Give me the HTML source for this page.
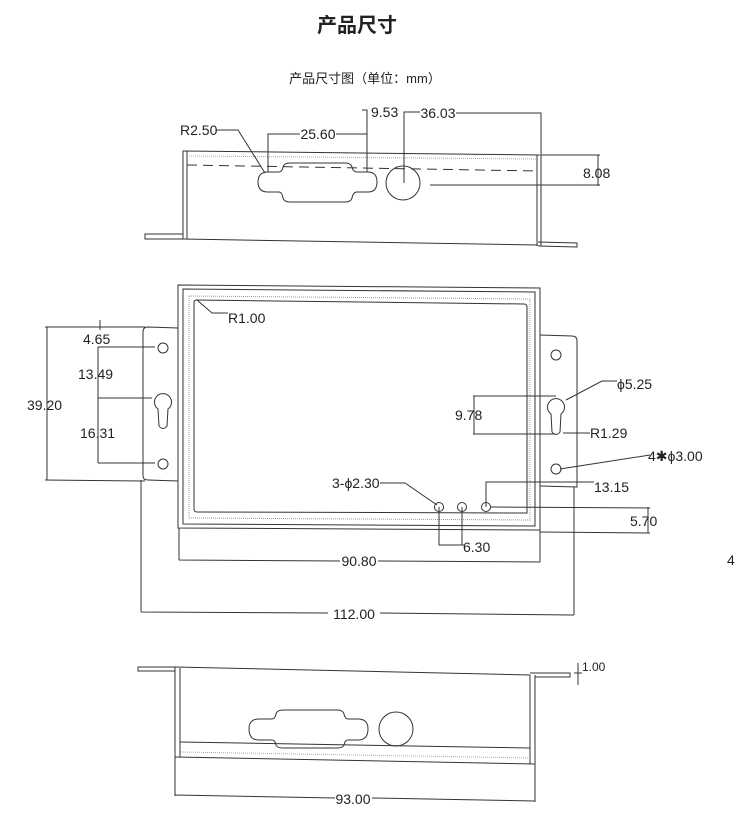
<!DOCTYPE html>
<html><head><meta charset="utf-8"><style>
html,body{margin:0;padding:0;background:#fff;}
svg{display:block;}
text{font-family:"Liberation Sans Narrow","Liberation Sans",sans-serif;fill:#222;font-size:14px;}
.t{font-family:"Liberation Sans","Noto Sans CJK SC",sans-serif;}
</style></head><body>
<svg width="750" height="835" viewBox="0 0 750 835" xmlns="http://www.w3.org/2000/svg">
<g fill="none" stroke="#333" stroke-width="1">
<!-- TOP VIEW -->
<path d="M145,234 L183,234 L183,239 L145,239 Z"/>
<path d="M538,242 L577,243 L577,247 L538,246"/>
<path d="M183,239 L183,151 L187,151 L187,239"/>
<path d="M183,151 L540,155"/>
<path d="M187,156 L536,159" stroke="#aaa" stroke-dasharray="1,1"/>
<path d="M183,239 L538,245"/>
<path d="M537,155 L537,246 M541,155 L541,246"/>
<path d="M187,165 L537,171" stroke-dasharray="10,6"/>
<path d="M268,172 Q258,172 258,182 Q258,192 268,192 L279,192 Q282,192 283,198 Q284,202 290,202 L345,202 Q351,202 352,198 Q353,192 357,192 L368,192 Q377,192 377,182 Q377,172 368,172 L357,172 Q353,172 352,167 Q351,163 345,163 L290,163 Q284,163 283,167 Q282,172 279,172 Z"/>
<circle cx="403" cy="183" r="17"/>
<path d="M268,172 L268,134 L300,134 M336,134 L367,134 M367,172 L367,110 L362,110 M404,183 L404,112 L420,112 M456,113 L541,113 L541,245"/>
<path d="M216,130 L238,130 L265,173"/>
<path d="M541,155 L600,155 M598,155 L598,186 M430,185 L600,185"/>
<!-- MIDDLE VIEW -->
<path d="M178,285 L540,288 L540,530 L178,528 Z"/>
<path d="M183,289 L535,292 L535,526 L183,524 Z"/>
<path d="M189,296 L530,299 L530,520 L189,518 Z" stroke="#999" stroke-dasharray="1,1"/>
<path d="M194,302 Q194,300 197,300 L524,304 Q527,304 527,307 L527,513 L197,512 Q194,512 194,509 Z"/>
<path d="M178,328 L148,327 Q143,327 143,332 L143,476 Q143,480 148,480 L178,481"/>
<path d="M540,335 L572,336 Q577,336 577,341 L577,487 L540,486"/>
<circle cx="163" cy="348" r="5"/><circle cx="163" cy="464" r="5"/>
<path d="M158,409 A8.5,8.5 0 1 1 168,409 L167,426 Q163,431 159,426 Z"/>
<circle cx="556" cy="355" r="5"/><circle cx="556" cy="469" r="5"/>
<path d="M551,414 A8.5,8.5 0 1 1 561,414 L560,432 Q556,437 552,432 Z"/>
<circle cx="439" cy="507" r="4.5"/><circle cx="462" cy="507" r="4.5"/><circle cx="486" cy="507" r="4.5"/>
<path d="M45,327 L145,327 M45,480 L145,481 M47,327 L47,480"/>
<path d="M100,320 L100,330 M98,347 L155,347 M98,347 L98,463 M98,398 L152,398 M98,463 L155,463"/>
<path d="M197,300 L212,313 L228,313"/>
<path d="M473,396 L556,396 M473,434 L556,434 M474,396 L474,434"/>
<path d="M566,400 L602,381 L617,381 M563,433 L590,433 M560,469 L650,455"/>
<path d="M380,483 L405,483 L437,505"/>
<path d="M486,507 L486,482 L594,482 M490,507 L650,508 M540,532 L650,533 M648,507 L648,533"/>
<path d="M439,507 L439,545 L464,545 M462,507 L462,545"/>
<path d="M179,528 L179,560 M540,530 L540,562 M179,560 L340,561 M378,561 L540,562"/>
<path d="M141,480 L141,612 M574,487 L574,615 M141,612 L328,613 M380,613 L574,615"/>
<!-- BOTTOM VIEW -->
<path d="M138,667 L175,667 L175,671 L138,671 Z"/>
<path d="M175,667 L530,675 M530,673 L570,673 L570,677 L535,677"/>
<path d="M175,667 L175,757 M180,668 L180,757 M530,675 L530,764 M535,675 L535,764"/>
<path d="M180,742 L530,748 M175,757 L535,764"/>
<path d="M181,752 L530,758" stroke="#aaa" stroke-dasharray="1,1"/>
<path d="M259,719 Q249,719 249,729 Q249,740 259,740 L272,740 Q275,740 276,745 Q277,748 283,748 L337,748 Q343,748 344,745 Q345,740 348,740 L358,740 Q368,740 368,729 Q368,719 358,719 L348,719 Q345,719 344,714 Q343,710 337,710 L283,710 Q277,710 276,714 Q275,719 272,719 Z"/>
<circle cx="396" cy="729" r="17"/>
<path d="M175,757 L175,796 M535,764 L535,802 M175,795 L335,798 M372,798 L535,801"/>
<path d="M578,663 L578,685 M574,673 L582,673"/>
</g>
<text class="t" x="357" y="32" text-anchor="middle" style="font-size:20px;font-weight:bold;">产品尺寸</text>
<text class="t" x="365" y="83" text-anchor="middle" style="font-size:13px;">产品尺寸图（单位：mm）</text>
<text x="180" y="135">R2.50</text>
<text x="318" y="139" text-anchor="middle">25.60</text>
<text x="371" y="117">9.53</text>
<text x="438" y="118" text-anchor="middle">36.03</text>
<text x="583" y="178">8.08</text>
<text x="228" y="323">R1.00</text>
<text x="27" y="410">39.20</text>
<text x="83" y="344">4.65</text>
<text x="78" y="379">13.49</text>
<text x="80" y="438">16.31</text>
<text x="455" y="420">9.78</text>
<text x="617" y="389">ϕ5.25</text>
<text x="590" y="438">R1.29</text>
<text x="648" y="461">4✱ϕ3.00</text>
<text x="332" y="488">3-ϕ2.30</text>
<text x="594" y="492">13.15</text>
<text x="630" y="526">5.70</text>
<text x="463" y="552">6.30</text>
<text x="359" y="566" text-anchor="middle">90.80</text>
<text x="354" y="619" text-anchor="middle">112.00</text>
<text x="727" y="565">4</text>
<text x="353" y="804" text-anchor="middle">93.00</text>
<text x="582" y="671" style="font-size:12px;">1.00</text>
</svg>
</body></html>
